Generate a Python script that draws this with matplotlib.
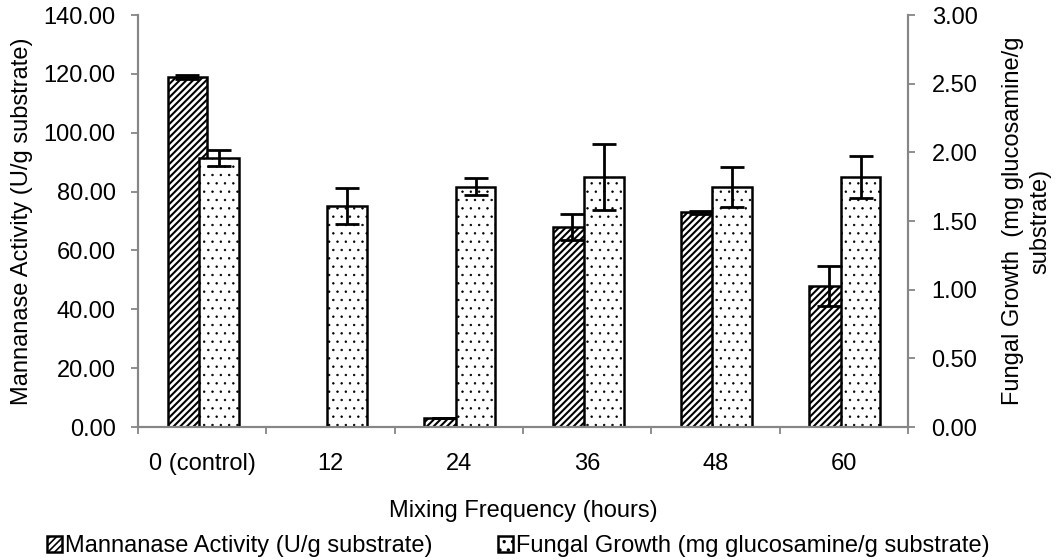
import matplotlib
matplotlib.use("Agg")
import matplotlib.pyplot as plt
import numpy as np

plt.rcParams['font.family'] = ['Liberation Sans', 'DejaVu Sans']
plt.rcParams['hatch.linewidth'] = 1.2

# data (no mannanase bar at 12 h)
categories = ["0 (control)", "12", "24", "36", "48", "60"]
mannanase = [119.0, np.nan, 3.2, 68.0, 73.0, 48.0]
mannanase_err = [0.6, 0.0, 0.0, 4.4, 0.5, 6.8]
fungal = [1.96, 1.61, 1.75, 1.82, 1.75, 1.82]
fungal_err = [0.06, 0.13, 0.06, 0.24, 0.145, 0.155]

left_ticks = np.arange(0, 141, 20)
right_ticks = np.arange(0, 3.01, 0.5)

fs = 17
grey = "#868686"

fig = plt.figure(figsize=(10.6, 5.6), dpi=100)
ax = fig.add_axes([138/1060, 1-427/560, (908-138)/1060, (427-15)/560])
ax2 = ax.twinx()

x = np.arange(len(categories))
w = 0.31
b1 = ax.bar(x - 0.115, mannanase, w, color="white", edgecolor="black",
            linewidth=1.8, hatch="/////", zorder=2,
            label="Mannanase Activity (U/g substrate)")
ax.errorbar(x - 0.115, mannanase, yerr=mannanase_err, fmt="none",
            ecolor="black", elinewidth=2, capsize=8.6, capthick=2, zorder=3)
b2 = ax2.bar(x + 0.13, fungal, w, color="white", edgecolor="black",
             linewidth=1.8, hatch="..", zorder=2,
             label="Fungal Growth (mg glucosamine/g substrate)")
ax2.errorbar(x + 0.13, fungal, yerr=fungal_err, fmt="none",
             ecolor="black", elinewidth=2, capsize=8.6, capthick=2, zorder=3)

for p in b1:
    if hasattr(p, "set_hatch_linewidth"):
        p.set_hatch_linewidth(1.5)
for p in b2:
    if hasattr(p, "set_hatch_linewidth"):
        p.set_hatch_linewidth(0.5)

ax.set_xlim(-0.5, len(categories) - 0.5)
ax.set_ylim(0, 140)
ax2.set_ylim(0, 3)
ax.set_yticks(left_ticks)
ax.set_yticklabels([f"{v:.2f}" for v in left_ticks], fontsize=fs)
ax2.set_yticks(right_ticks)
ax2.set_yticklabels([f"{v:.2f}" for v in right_ticks], fontsize=fs)

# Excel-style category ticks: marks at boundaries, labels at centres
ax.set_xticks(np.arange(-0.5, len(categories), 1.0))
ax.set_xticklabels([])
ax.set_xticks(x, minor=True)
ax.set_xticklabels(categories, minor=True, fontsize=fs)
ax.tick_params(axis="x", which="minor", length=0, pad=19)
ax.tick_params(axis="x", which="major", length=5, color=grey, width=1.3)
ax.tick_params(axis="y", length=5, color=grey, width=1.3, pad=11)
ax2.tick_params(axis="y", length=5, color=grey, width=1.3, pad=12)

for a in (ax, ax2):
    a.spines["top"].set_visible(False)
    for s in ("left", "right", "bottom"):
        a.spines[s].set_color(grey)
        a.spines[s].set_linewidth(1.5)

ax.set_xlabel("Mixing Frequency (hours)", fontsize=fs, labelpad=18)
ax.set_ylabel("Mannanase Activity (U/g substrate)", fontsize=fs, labelpad=8)
ax2.set_ylabel("Fungal Growth  (mg glucosamine/g\nsubstrate)", fontsize=fs,
               labelpad=18, multialignment="center", linespacing=1.3)

fig.legend(handles=[b1, b2], loc="center left",
           bbox_to_anchor=(47/1060, 1-546/560), borderpad=0,
           borderaxespad=0, ncol=2, frameon=False, fontsize=fs,
           handlelength=0.64, handleheight=0.64, handletextpad=0.13,
           columnspacing=2.75)

fig.savefig("out.png", dpi=100)
